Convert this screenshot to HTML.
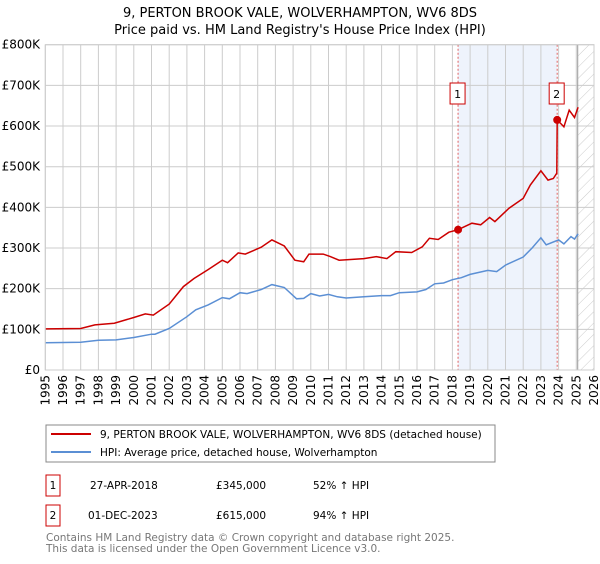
<!DOCTYPE html>
<html><head><meta charset="utf-8"><style>
body{margin:0;background:#fff;width:600px;height:560px;overflow:hidden;font-family:"DejaVu Sans","Liberation Sans",sans-serif;}
svg text{font-family:"DejaVu Sans","Liberation Sans",sans-serif;}
</style></head><body>
<svg id="chart" width="600" height="560">
<defs><pattern id="hatch" width="8" height="8" patternUnits="userSpaceOnUse" patternTransform="rotate(45)"><line x1="0" y1="0" x2="0" y2="8" stroke="#ccc" stroke-width="1"/></pattern></defs>
<text x="300" y="17" text-anchor="middle" font-size="13">9, PERTON BROOK VALE, WOLVERHAMPTON, WV6 8DS</text>
<text x="300" y="34" text-anchor="middle" font-size="13">Price paid vs. HM Land Registry's House Price Index (HPI)</text>
<g id="grid"></g><g id="marks"></g>
<rect x="46" y="425" width="449" height="37" fill="#fff" stroke="#888"/>
<line x1="51" y1="434" x2="91" y2="434" stroke="#cc0000" stroke-width="2"/>
<text x="100" y="438" font-size="10.5">9, PERTON BROOK VALE, WOLVERHAMPTON, WV6 8DS (detached house)</text>
<line x1="51" y1="452" x2="91" y2="452" stroke="#5b8fd4" stroke-width="2"/>
<text x="100" y="456" font-size="10.5">HPI: Average price, detached house, Wolverhampton</text>
<g font-size="10.5">
<rect x="46" y="475" width="14" height="21" fill="#fff" stroke="#cc0000"/><text x="53" y="489" text-anchor="middle">1</text>
<text x="90" y="489">27-APR-2018</text><text x="216" y="489">£345,000</text><text x="313" y="489">52% ↑ HPI</text></g>
<g font-size="10.5">
<rect x="46" y="505" width="14" height="21" fill="#fff" stroke="#cc0000"/><text x="53" y="519" text-anchor="middle">2</text>
<text x="88" y="519">01-DEC-2023</text><text x="216" y="519">£615,000</text><text x="313" y="519">94% ↑ HPI</text></g>
<text x="46" y="541" font-size="10.5" fill="#777">Contains HM Land Registry data © Crown copyright and database right 2025.</text>
<text x="46" y="552" font-size="10.5" fill="#777">This data is licensed under the Open Government Licence v3.0.</text>
</svg>
<script>
const yTicks=[0,100000,200000,300000,400000,500000,600000,700000,800000];
const yTickLabels=["£0","£100K","£200K","£300K","£400K","£500K","£600K","£700K","£800K"];
const years=[1995,1996,1997,1998,1999,2000,2001,2002,2003,2004,2005,2006,2007,2008,2009,2010,2011,2012,2013,2014,2015,2016,2017,2018,2019,2020,2021,2022,2023,2024,2025,2026];
const priceT=[1995,1997,1997.8,1998.9,2000,2000.65,2001.1,2002,2002.8,2003.4,2004.2,2005,2005.3,2005.9,2006.3,2007.2,2007.8,2008.5,2009.1,2009.6,2009.9,2010.7,2011.1,2011.6,2013,2013.7,2014.3,2014.8,2015.7,2016.3,2016.7,2017.2,2017.8,2018.32,2019.1,2019.6,2020.1,2020.4,2021.2,2022,2022.4,2023,2023.4,2023.7,2023.9,2023.92,2024.3,2024.6,2024.9,2025.1];
const priceV=[101,102,111,115,129,138,135,162,205,225,247,270,264,288,285,302,320,305,270,266,285,285,279,270,274,279,274,291,289,303,324,321,339,345,361,357,375,365,398,422,455,490,467,471,484,615,598,639,621,646];
const hpiT=[1995,1997,1998,1999,2000,2001,2001.2,2002,2003,2003.5,2004.2,2005,2005.4,2006,2006.4,2007.2,2007.8,2008.5,2009.2,2009.6,2010,2010.5,2011,2011.5,2012,2013,2014,2014.5,2015,2016,2016.5,2017,2017.5,2018,2018.5,2019,2020,2020.5,2021,2022,2022.5,2023,2023.3,2024,2024.3,2024.7,2024.9,2025.1];
const hpiV=[67,68,73,74,80,88,88,102,131,148,160,178,175,190,188,198,210,203,175,176,188,182,186,180,177,180,183,183,190,192,198,212,214,222,227,235,245,242,258,278,300,325,308,320,310,328,322,335];
const saleT=[2018.32,2023.92];
const saleV=[345,615];
const saleLabels=["1","2"];
const NS='http://www.w3.org/2000/svg';
const X0=45.3,X1=594,Y0=370,Y1=44.7;
const xs=t=>X0+(t-1995)*(X1-X0)/31;
const ys=v=>Y0-v*(Y0-Y1)/800000;
const g=document.getElementById('grid'),m=document.getElementById('marks');
function el(tag,a,p){const e=document.createElementNS(NS,tag);for(const k in a)e.setAttribute(k,a[k]);(p||g).appendChild(e);return e;}
let r=el('rect',{x:xs(saleT[0]),y:Y1,width:xs(saleT[1])-xs(saleT[0]),height:Y0-Y1,fill:'#eef3fc'});


let h=el('rect',{x:xs(2025.08),y:Y1,width:X1-xs(2025.08),height:Y0-Y1,fill:'url(#hatch)'});


years.forEach(y=>{const l=el('line',{x1:xs(y),x2:xs(y),y1:Y1,y2:Y0,stroke:'#ccc'});


const t=el('text',{x:0,y:0,'font-size':12,transform:`translate(${xs(y)+4},${Y0+5}) rotate(-90)`,'text-anchor':'end'});
t.textContent=y;

});
yTicks.forEach((v,i)=>{const l=el('line',{x1:X0,x2:X1,y1:ys(v),y2:ys(v),stroke:'#ccc'});


const t=el('text',{x:40,y:ys(v)+4,'font-size':12,'text-anchor':'end'});
t.textContent=yTickLabels[i];

});
el('line',{x1:xs(2025.08),x2:xs(2025.08),y1:Y1,y2:Y0,stroke:'#999'});
saleT.forEach((t,i)=>{const l=el('line',{x1:xs(t),x2:xs(t),y1:Y1,y2:Y0,stroke:'#e06060','stroke-dasharray':'2,2'},m);

});
function path(T,V,c,name){const d=T.map((t,i)=>(i?'L':'M')+xs(t).toFixed(1)+','+ys(V[i]*1000).toFixed(1)).join('');
const p=el('path',{d:d,fill:'none',stroke:c,'stroke-width':1.5},m);

}
path(hpiT,hpiV,'#5b8fd4','hpi-line');
path(priceT,priceV,'#cc0000','price-line');
saleT.forEach((t,i)=>{const c=el('circle',{cx:xs(t),cy:ys(saleV[i]*1000),r:4,fill:'#cc0000'},m);


const b=el('rect',{x:xs(t)-8,y:83,width:15,height:21,fill:'#fff',stroke:'#cc0000'},m);


const tx=el('text',{x:xs(t)-0.5,y:98,'font-size':11,'text-anchor':'middle'},m);
tx.textContent=saleLabels[i];

});
el('rect',{x:X0,y:Y1,width:X1-X0,height:Y0-Y1,fill:'none',stroke:'#ccc'},m);
</script>
</body></html>
